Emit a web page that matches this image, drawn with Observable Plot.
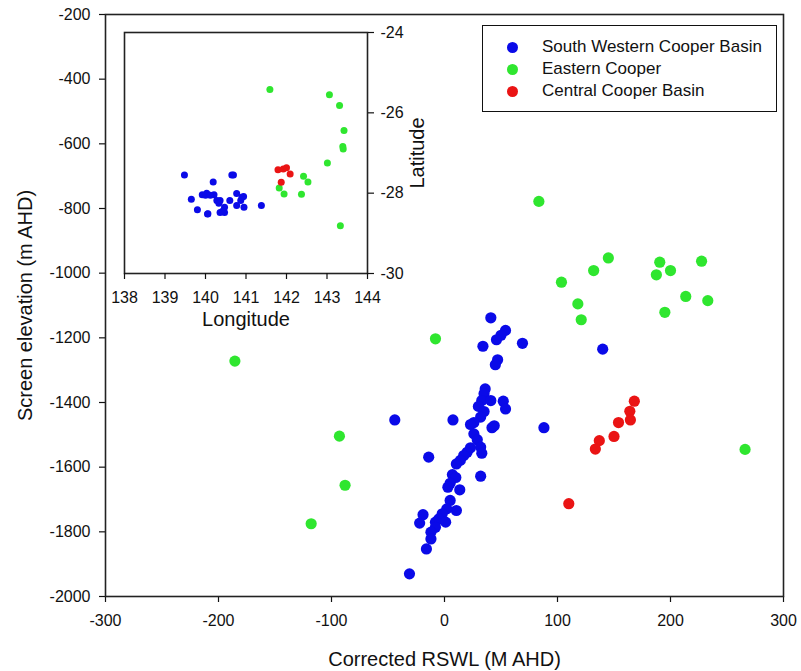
<!DOCTYPE html>
<html><head><meta charset="utf-8">
<script src="https://cdn.jsdelivr.net/npm/d3@7"></script>
<script src="https://cdn.jsdelivr.net/npm/@observablehq/plot@0.6"></script>
<style>
body{margin:0;background:#fff;}
#wrap{position:relative;width:801px;height:671px;font-family:"Liberation Sans",Arial,sans-serif;overflow:hidden;}
#main{position:absolute;left:0;top:0;}
#inset{position:absolute;left:110px;top:20px;}
#legend{position:absolute;left:482px;top:25px;width:295px;height:87px;box-sizing:border-box;border:1.5px solid #111;background:#fff;}
.row{position:absolute;left:0;height:22px;line-height:22px;display:flex;align-items:center;font-size:17px;color:#111;white-space:nowrap;}
.dot{display:inline-block;width:11px;height:11px;border-radius:50%;margin-left:24px;margin-right:24px;}
</style></head>
<body><div id="wrap"><div id="main"></div><div id="inset"></div><div id="legend"></div></div>
<script>
// ---- data ----
const categories = ["South Western Cooper Basin", "Eastern Cooper", "Central Cooper Basin"];
const colors = ["#0a0ae8", "#2fe62f", "#ea1414"];

const swX = [41, 54, 50, 46, 34, 69, 47, 45, 36, 35, 33, 41, 52, 54, 30, 35, 32, -44, 7.5, 42, 44, 88, 26, 23, 26, 29, 32, 33, 23, 20, 17, 14, 10.5, -14, 32, 7, 10, 5, 3, 13.5, 5, 10.5, 2, -2, -5, -8, 1, -19, -22, -8, -12, -12, -16, -31, 140];
const swY = [-1138, -1177, -1192, -1206, -1226, -1217, -1268, -1283, -1358, -1373, -1394, -1394, -1396, -1420, -1412, -1428, -1445, -1454, -1454, -1478, -1472, -1478, -1462, -1468, -1497, -1515, -1538, -1557, -1540, -1554, -1564, -1579, -1590, -1569, -1628, -1623, -1632, -1650, -1662, -1670, -1703, -1734, -1729, -1744, -1760, -1770, -1770, -1747, -1773, -1786, -1801, -1822, -1853, -1930, -1235];

const ecX = [83.5, 145, 132, 103.5, 118, 121, 190.5, 200, 187.5, 227.5, 213.5, 233, 195, 266, -185.5, -93, -88, -118, -8];
const ecY = [-778, -953, -992, -1028, -1095, -1144, -966, -992, -1005, -963, -1072, -1085, -1121, -1545, -1272, -1504, -1656, -1775, -1203];

const ccX = [168, 164, 164.5, 154, 150, 137, 133.5, 110];
const ccY = [-1396, -1427, -1454, -1462, -1505, -1518, -1544, -1713];

// inset (map) data
const swLon = [139.48, 139.65, 139.80, 139.92, 140.03, 140.06, 140.19, 140.21, 140.28, 140.36, 140.36, 140.47, 140.47, 140.60, 140.65, 140.69, 140.77, 140.77, 140.87, 140.94, 140.95, 141.38, 140.00, 140.12, 140.33, 140.05, 140.42, 140.90];
const swLat = [-27.55, -28.15, -28.41, -28.04, -28.00, -28.51, -27.72, -28.04, -28.18, -28.18, -28.48, -28.35, -28.48, -28.18, -27.55, -27.55, -28.01, -28.31, -28.18, -28.08, -28.35, -28.31, -28.05, -28.05, -28.25, -28.52, -28.45, -28.10];
const ecLon = [141.59, 143.06, 143.31, 143.42, 143.39, 143.40, 143.01, 142.42, 142.53, 141.82, 141.94, 142.37, 143.33];
const ecLat = [-25.42, -25.55, -25.82, -26.44, -26.84, -26.90, -27.25, -27.58, -27.72, -27.87, -28.02, -28.03, -28.81];
const ccLon = [141.79, 141.92, 142.00, 142.09, 141.87];
const ccLat = [-27.42, -27.40, -27.37, -27.52, -27.73];

const xTicks = [-300, -200, -100, 0, 100, 200, 300];
const yTicks = [-200, -400, -600, -800, -1000, -1200, -1400, -1600, -1800, -2000];
const lonTicks = [138, 139, 140, 141, 142, 143, 144];
const latTicks = [-24, -26, -28, -30];

const xTitle = "Corrected RSWL (M AHD)";
const yTitle = "Screen elevation (m AHD)";
const lonTitle = "Longitude";
const latTitle = "Latitude";

// ---- build tables ----
function rows(xs, ys, g) { return xs.map((x, i) => ({x, y: ys[i], g})); }
const mainData = [...rows(swX, swY, categories[0]), ...rows(ecX, ecY, categories[1]), ...rows(ccX, ccY, categories[2])];
const mapData = [...rows(swLon, swLat, categories[0]), ...rows(ecLon, ecLat, categories[1]), ...rows(ccLon, ccLat, categories[2])];
const colorScale = {domain: categories, range: colors};
const fmt = d => String(d);
const font = "Liberation Sans, Arial, sans-serif";

// ---- main chart ----
const main = Plot.plot({
  width: 801, height: 671,
  marginLeft: 105, marginRight: 18, marginTop: 14, marginBottom: 75,
  style: {fontFamily: font, background: "transparent", color: "#111"},
  x: {domain: [-300, 300]},
  y: {domain: [-2000, -200]},
  color: colorScale,
  marks: [
    Plot.axisX({ticks: xTicks, tickFormat: fmt, tickSize: 6, tickPadding: 12, fontSize: 16, label: null, stroke: "#111", strokeWidth: 1.2}),
    Plot.axisY({ticks: yTicks, tickFormat: fmt, tickSize: 6, tickPadding: 9, fontSize: 16, label: null, stroke: "#111", strokeWidth: 1.2}),
    Plot.dot(mainData, {x: "x", y: "y", fill: "g", r: 5.6, stroke: null}),
    Plot.frame({stroke: "#222", strokeWidth: 1.6}),
    Plot.text([xTitle], {frameAnchor: "bottom", dy: 63, text: d => d, fontSize: 20, lineAnchor: "middle", textAnchor: "middle", fill: "#111"}),
    Plot.text([yTitle], {frameAnchor: "left", dx: -80, rotate: -90, text: d => d, fontSize: 20, lineAnchor: "middle", textAnchor: "middle", fill: "#111"})
  ]
});
document.getElementById("main").appendChild(main);

// ---- inset map ----
const inset = Plot.plot({
  width: 330, height: 320,
  marginLeft: 14, marginRight: 73, marginTop: 12, marginBottom: 67,
  style: {fontFamily: font, background: "transparent", color: "#111"},
  x: {domain: [138, 144]},
  y: {domain: [-30, -24]},
  color: colorScale,
  marks: [
    Plot.frame({fill: "white", stroke: "#222", strokeWidth: 1.6}),
    Plot.axisX({ticks: lonTicks, tickFormat: fmt, tickSize: 6, tickPadding: 12, fontSize: 16, label: null, stroke: "#111", strokeWidth: 1.2}),
    Plot.axisY({anchor: "right", ticks: latTicks, tickFormat: fmt, tickSize: 6, tickPadding: 7, fontSize: 16, label: null, stroke: "#111", strokeWidth: 1.2}),
    Plot.dot(mapData, {x: "x", y: "y", fill: "g", r: 3.5, stroke: null}),
    Plot.text([lonTitle], {frameAnchor: "bottom", dy: 46, text: d => d, fontSize: 20, lineAnchor: "middle", textAnchor: "middle", fill: "#111"}),
    Plot.text([latTitle], {frameAnchor: "right", dx: 50, rotate: -90, text: d => d, fontSize: 20, lineAnchor: "middle", textAnchor: "middle", fill: "#111"})
  ]
});
document.getElementById("inset").appendChild(inset);

// ---- legend ----
const legend = document.getElementById("legend");
categories.forEach((c, i) => {
  const row = document.createElement("div");
  row.className = "row";
  row.style.top = (10 + i * 22) + "px";
  const dot = document.createElement("span");
  dot.className = "dot";
  dot.style.background = colors[i];
  const label = document.createElement("span");
  label.textContent = c;
  row.appendChild(dot); row.appendChild(label);
  legend.appendChild(row);
});
</script>
</body></html>
